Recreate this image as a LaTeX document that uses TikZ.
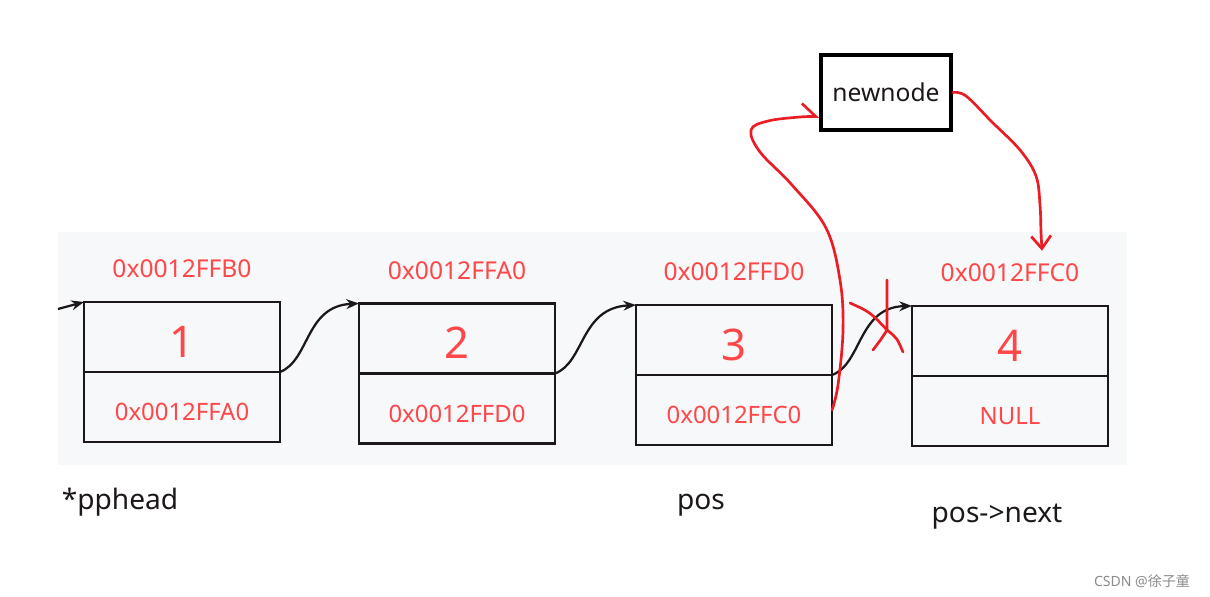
\documentclass[tikz,border=0pt]{standalone}
\usepackage{fontspec}
\setmainfont{Noto Sans}
\newfontfamily\cjkfont{Noto Sans CJK SC}
\usetikzlibrary{positioning, arrows.meta}
\definecolor{addr}{RGB}{255,70,72}
\definecolor{pen}{RGB}{234,28,36}
\definecolor{panel}{RGB}{247,248,250}
\definecolor{ink}{RGB}{28,24,26}

\begin{document}
\begin{tikzpicture}[x=0.025cm, y=-0.025cm,
  cell/.style={draw=ink, line width=1.9pt, outer sep=0pt, inner sep=0pt, minimum width=4.9cm, minimum height=1.75cm, text=addr, text depth=0pt},
  val/.style={cell, font=\fontsize{31}{31}\selectfont, text height=29pt},
  ptr/.style={cell, font=\fontsize{17}{17}\selectfont, text height=19.5pt},
  addrlbl/.style={text=addr, font=\fontsize{17.5}{17.5}\selectfont},
  varlbl/.style={text=ink, font=\fontsize{20}{20}\selectfont},
  link/.style={draw=ink, line width=1.6pt, -{Stealth[length=9pt, width=7pt]}},
  pen line/.style={draw=pen, line width=1.9pt, line cap=round, line join=round}]
\fill[white] (0,0) rectangle (1210,597);
\useasboundingbox (0,0) rectangle (1210,597);
\fill[panel] (58,232) rectangle (1127,465);

% list cells
\node[val] (d1) at (182,337) {1};
\node[ptr, below=0pt of d1] (p1) {0x0012FFA0};
\node[val] (d2) at (457,338.5) {2};
\node[ptr, below=0pt of d2] (p2) {0x0012FFD0};
\node[val] (d3) at (734,340) {3};
\node[ptr, below=0pt of d3] (p3) {0x0012FFC0};
\node[val] (d4) at (1010,341) {4};
\node[ptr, below=0pt of d4] (p4) {NULL};

\node[addrlbl, above=0.48cm of d1] (a1) {0x0012FFB0};
\node[addrlbl, above=0.48cm of d2] (a2) {0x0012FFA0};
\node[addrlbl, above=0.48cm of d3] (a3) {0x0012FFD0};
\node[addrlbl, above=0.48cm of d4] (a4) {0x0012FFC0};

\node[varlbl] (head) at (120,502) {*pphead};
\node[varlbl] (pos) at (701,505) {pos};
\node[varlbl] (posnext) at (997,517) {pos->next};

\node[draw=black, line width=2.6pt, minimum width=3.25cm, minimum height=1.875cm, font=\fontsize{17.5}{17.5}\selectfont, text=ink] (nn) at (886,92.5) {newnode};

% links
\coordinate (in0) at (58,309);
\draw[link] (in0) -- (d1.north west);
\draw[link] (p1.north east) .. controls (310,360) and (305,306) .. (d2.north west);
\draw[link] (p2.north east) .. controls (585,362) and (580,308) .. (d3.north west);
\draw[link] (p3.north east) .. controls (862,364) and (858,307) .. (d4.north west);

% hand-drawn insertion
\draw[pen line, -{Straight Barb[harpoon, length=10pt, width=18pt]}] plot[smooth, tension=0.6] coordinates {(p3.east) (838,385) (843,330) (840,280) (826,228) (792,185) (760,152) (751,130) (768,121) (800,117) ([yshift=-0.6cm]nn.west)};
\draw[pen line, -{Straight Barb[length=9pt, width=14pt]}] plot[smooth, tension=0.6] coordinates {(nn.east) (966,96) (992,122) (1020,150) (1036,176) (1040,205) (1041,232) ([xshift=0.8cm, yshift=0.2cm]a4.north)};

% crossed-out link
\draw[pen line] (887,280) -- (887,330) .. controls (882,338) .. (873,350);
\draw[pen line] (850,303) .. controls (870,312) .. (887,330) .. controls (897,338) .. (903,352);

\node[text=black!45, font=\fontsize{10}{10}\selectfont, anchor=east] (mark) at (1195,581) {CSDN @{\cjkfont 徐子童}};
\end{tikzpicture}
\end{document}
